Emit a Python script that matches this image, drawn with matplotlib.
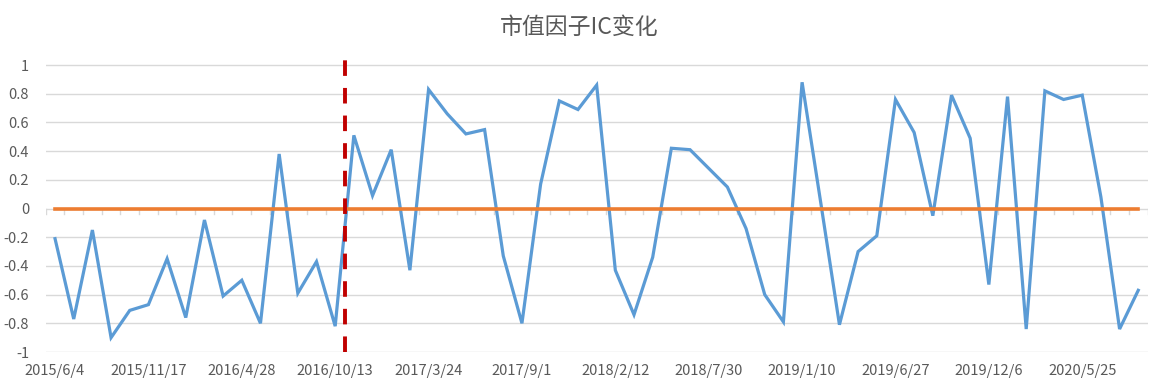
import matplotlib
matplotlib.use('Agg')
import matplotlib.pyplot as plt
import numpy as np

plt.rcParams['font.family'] = ['Noto Sans CJK SC', 'DejaVu Sans']

# monthly IC values of the market-cap factor
ic_values = [-0.21, -0.77, -0.15, -0.90, -0.71, -0.67, -0.35, -0.76, -0.08, -0.61,
             -0.50, -0.80, 0.38, -0.59, -0.37, -0.82, 0.51, 0.09, 0.41, -0.43,
             0.83, 0.66, 0.52, 0.55, -0.33, -0.80, 0.17, 0.75, 0.69, 0.86,
             -0.43, -0.74, -0.34, 0.42, 0.41, 0.28, 0.15, -0.14, -0.60, -0.79,
             0.88, 0.04, -0.81, -0.30, -0.19, 0.76, 0.53, -0.05, 0.79, 0.49,
             -0.53, 0.78, -0.84, 0.82, 0.76, 0.79, 0.08, -0.84, -0.57]
tick_labels = ['2015/6/4', '2015/11/17', '2016/4/28', '2016/10/13', '2017/3/24',
               '2017/9/1', '2018/2/12', '2018/7/30', '2019/1/10', '2019/6/27',
               '2019/12/6', '2020/5/25']
label_step = 5
split_after = 15  # regime change marker sits between points 15 and 16

x = np.arange(len(ic_values))
gray = '#595959'

fig = plt.figure(figsize=(11.58, 3.90), dpi=100)
ax = fig.add_axes([45.7 / 1158, 1 - 352 / 390, (1147.6 - 45.7) / 1158, (352 - 55) / 390])

ax.set_xlim(-0.5, len(ic_values) - 0.5)
ax.set_ylim(-1, 1.07)

# gridlines
for yv in np.arange(-1, 1.01, 0.2):
    ax.axhline(yv, color='#d9d9d9', lw=1, zorder=0)

# small category ticks on the zero line
for xv in np.arange(-0.5, len(ic_values), 1.0):
    ax.plot([xv, xv], [0, -0.035], color='#d9d9d9', lw=1, zorder=1)

ax.plot(x, ic_values, color='#5B9BD5', lw=2.3, zorder=3, solid_joinstyle='miter')
ax.plot(x, np.zeros(len(ic_values)), color='#ED7D31', lw=2.6, zorder=4)
ax.plot([split_after + 0.55] * 2, [-1, 1.06], color='#C00000', lw=2.8,
        dashes=(4.0, 3.1), zorder=5)

ax.set_yticks(np.round(np.arange(-1, 1.01, 0.2), 1))
ax.set_yticklabels(['-1', '-0.8', '-0.6', '-0.4', '-0.2', '0', '0.2', '0.4', '0.6', '0.8', '1'])
ax.set_xticks(x[::label_step][:len(tick_labels)])
ax.set_xticklabels(tick_labels)
ax.tick_params(axis='both', length=0, colors=gray, labelsize=10.5)
ax.tick_params(axis='y', pad=12)
ax.tick_params(axis='x', pad=9)
for s in ax.spines.values():
    s.set_visible(False)

fig.text(0.5, 1 - 27 / 390, '市值因子IC变化', ha='center', va='center',
         fontsize=16.5, color=gray)

fig.savefig('out.png', dpi=100, facecolor='white')
